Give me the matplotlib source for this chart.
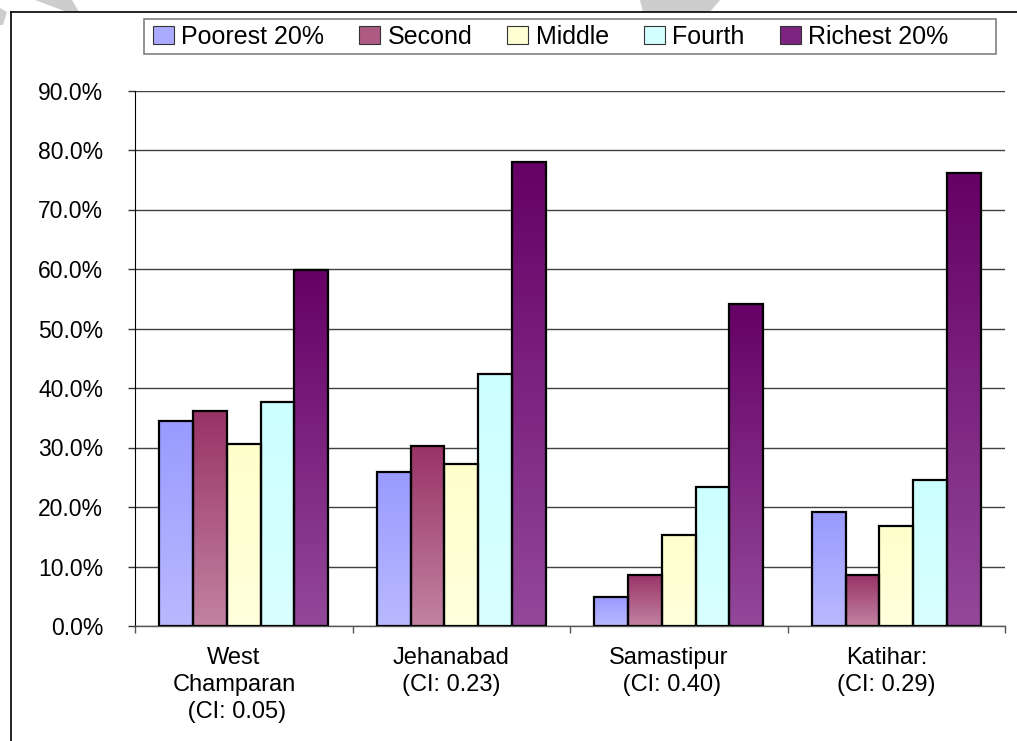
import numpy as np
import matplotlib
matplotlib.use("Agg")
import matplotlib.pyplot as plt
from matplotlib.patches import Patch, Rectangle, Polygon
from matplotlib.lines import Line2D
from matplotlib.colors import to_rgb

plt.rcParams['font.family'] = ['Liberation Sans', 'DejaVu Sans']

# ---------------- data ----------------
categories = ["West\nChamparan\n (CI: 0.05)", "Jehanabad\n(CI: 0.23)",
              "Samastipur\n (CI: 0.40)", "Katihar:\n(CI: 0.29)"]
series = ["Poorest 20%", "Second", "Middle", "Fourth", "Richest 20%"]
poorest = [34.5, 25.8, 4.8, 19.1]
second = [36.1, 30.3, 8.6, 8.5]
middle = [30.6, 27.3, 15.3, 16.8]
fourth = [37.7, 42.4, 23.4, 24.6]
richest = [59.8, 77.9, 54.2, 76.1]
values = [poorest, second, middle, fourth, richest]
yticks = [0, 10, 20, 30, 40, 50, 60, 70, 80, 90]

# gradient colours (top, bottom)
grad_top = ["#9a9aff", "#993366", "#ffffcc", "#ccffff", "#660066"]
grad_bot = ["#b9b9ff", "#c283a3", "#ffffdc", "#d9ffff", "#93489a"]

W, H = 1017, 741
fig = plt.figure(figsize=(W / 100, H / 100), dpi=100)
fig.patch.set_facecolor("white")

# background watermark shapes (pixel coords)
def px(pts):
    return [(x / W, 1 - y / H) for x, y in pts]

for pts in ([(35, 0), (72, 0), (79, 12), (67, 12)],
            [(640, 0), (720, 0), (710, 12), (643, 12)],
            [(0, 8), (7, 12), (3, 25), (0, 25)]):
    fig.add_artist(Polygon(px(pts), closed=True, transform=fig.transFigure,
                           facecolor="#cdcdcd", edgecolor="none", zorder=0))

# outer frame (left and top visible)
fig.add_artist(Line2D([11 / W, 11 / W], [0, 1 - 12 / H], transform=fig.transFigure,
                      color="black", lw=1.2))
fig.add_artist(Line2D([11 / W, 1], [1 - 12 / H, 1 - 12 / H], transform=fig.transFigure,
                      color="black", lw=1.2))

ax = fig.add_axes([135 / W, 1 - 626 / H, (1005 - 135) / W, (626 - 90.5) / H])

n = len(categories)
x = np.arange(n)
bw = 0.155
for i, (vals, ct, cb) in enumerate(zip(values, grad_top, grad_bot)):
    offs = x + (i - 2) * bw
    bars = ax.bar(offs, vals, width=bw, facecolor="none", edgecolor="black",
                  linewidth=1.6, zorder=3)
    t = np.array(to_rgb(ct))
    b = np.array(to_rgb(cb))
    f = np.linspace(0, 1, 256)[:, None]
    grad = (t * (1 - f) + b * f)[:, None, :]
    for bar in bars:
        x0 = bar.get_x()
        h = bar.get_height()
        im = ax.imshow(grad, extent=(x0, x0 + bw, 0, h), aspect="auto",
                       origin="upper", zorder=2, interpolation="bilinear")
        im.set_clip_path(bar)

ax.set_xlim(-0.5, n - 0.5)
ax.set_ylim(0, 90)

# y axis
ax.set_yticks(yticks)
ax.set_yticklabels([f"{v:.1f}%" for v in yticks], fontsize=16.5)
ax.tick_params(axis="y", direction="out", length=5, width=1, pad=18, color="#333333")
ax.yaxis.grid(True, color="#404040", linewidth=1)
ax.set_axisbelow(True)

# x axis
ax.set_xticks(np.arange(n + 1) - 0.5)
ax.set_xticklabels([])
ax.tick_params(axis="x", which="major", direction="out", length=5, width=1,
               color="#555555")
ax.set_xticks(x - 0.045, minor=True)
ax.set_xticklabels(categories, minor=True, fontsize=17, multialignment="center",
                   linespacing=1.3)
ax.tick_params(axis="x", which="minor", length=0, pad=15)

for s in ["top", "right"]:
    ax.spines[s].set_visible(False)
ax.spines["left"].set_color("black")
ax.spines["bottom"].set_color("#555555")
ax.spines["bottom"].set_linewidth(1)

# legend
handles = [Patch(facecolor=tuple((np.array(to_rgb(a)) + np.array(to_rgb(b))) / 2),
                 edgecolor="#333333", linewidth=0.8) for a, b in zip(grad_top, grad_bot)]
leg = fig.legend(handles, series, loc="center left", ncol=5, frameon=False,
                 bbox_to_anchor=(145 / W, 1 - 36.5 / H), fontsize=18,
                 handlelength=0.84, handleheight=0.72, handletextpad=0.3,
                 columnspacing=1.4, borderaxespad=0, borderpad=0.3)
fig.add_artist(Rectangle((144 / W, 1 - 54 / H), (996 - 144) / W, 35 / H,
                         transform=fig.transFigure, facecolor="none",
                         edgecolor="#808080", linewidth=1.2))

fig.savefig("out.png", dpi=100, facecolor="white")
